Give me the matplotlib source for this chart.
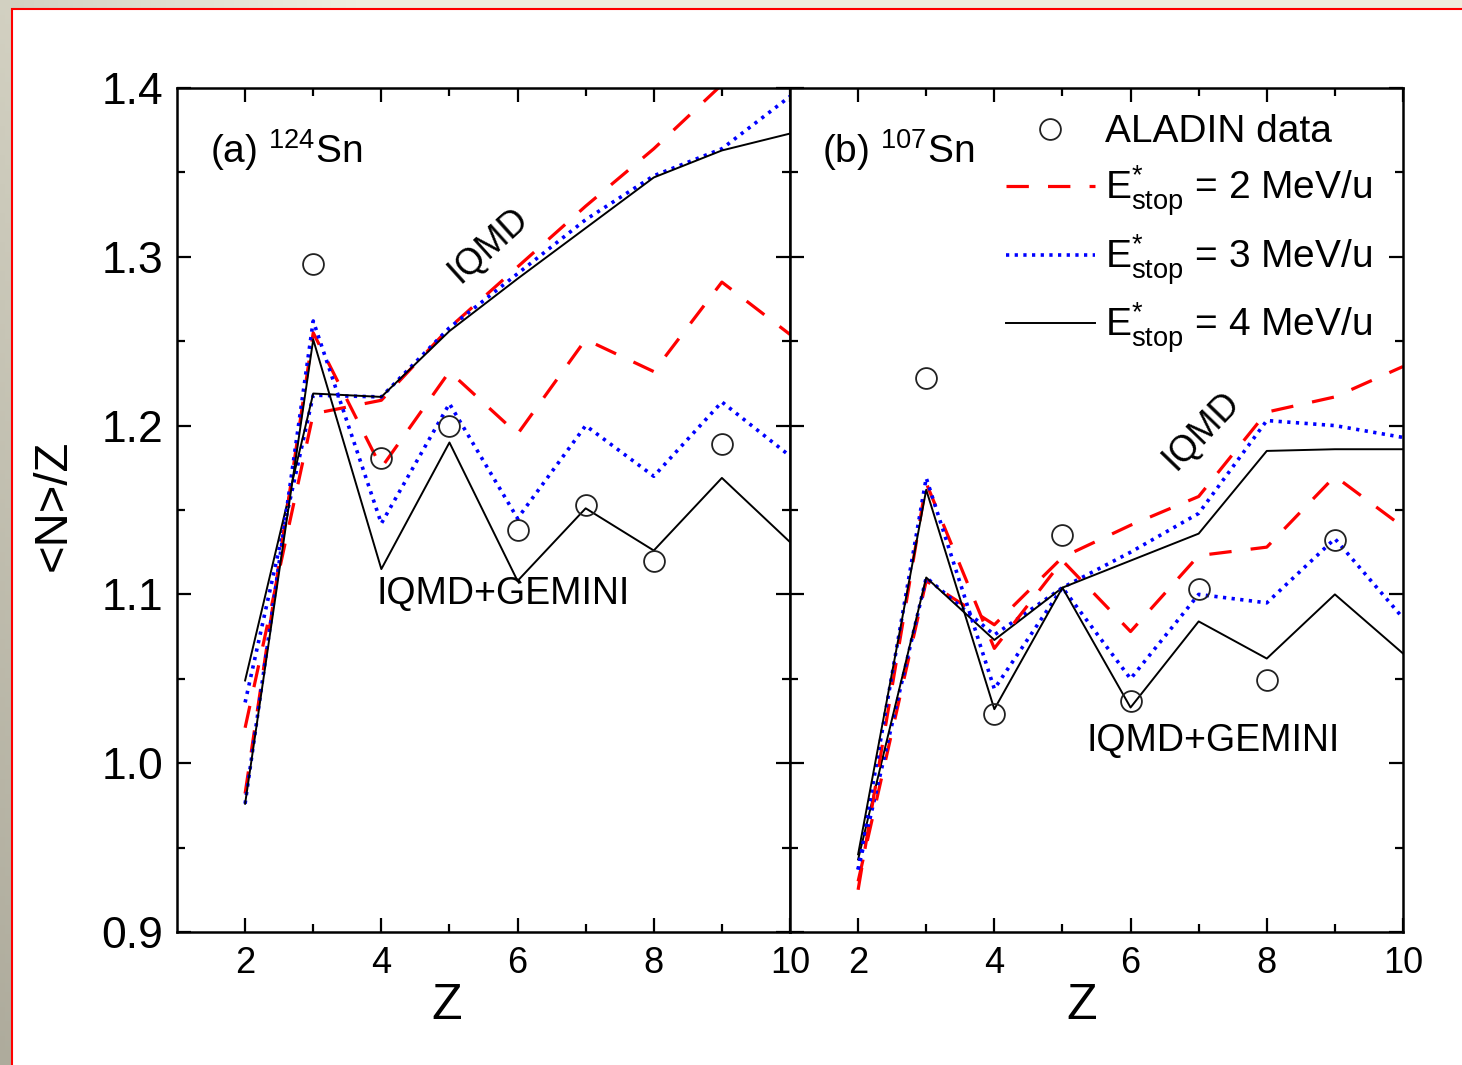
import numpy as np
import matplotlib
matplotlib.use('Agg')
import matplotlib.pyplot as plt
from matplotlib.patches import Rectangle
from matplotlib.lines import Line2D

plt.rcParams['font.family'] = ['Liberation Sans', 'DejaVu Sans']
plt.rcParams['mathtext.fontset'] = 'custom'
plt.rcParams['mathtext.rm'] = 'Liberation Sans'
plt.rcParams['mathtext.it'] = 'Liberation Sans:italic'
plt.rcParams['mathtext.bf'] = 'Liberation Sans:bold'

# charge number of the fragments
Z = [2, 3, 4, 5, 6, 7, 8, 9, 10]
Z_data = [3, 4, 5, 6, 7, 8, 9]

# (a) 124Sn
aladin_a = [1.296, 1.181, 1.200, 1.138, 1.153, 1.120, 1.189]
iqmd_a_2 = [1.021, 1.207, 1.215, 1.258, 1.294, 1.330, 1.364, 1.402, 1.430]
iqmd_a_3 = [1.036, 1.218, 1.217, 1.258, 1.290, 1.322, 1.348, 1.364, 1.395]
iqmd_a_4 = [1.049, 1.219, 1.217, 1.256, 1.287, 1.317, 1.347, 1.363, 1.373]
gem_a_2 = [0.982, 1.255, 1.175, 1.232, 1.195, 1.251, 1.232, 1.285, 1.254]
gem_a_3 = [0.976, 1.262, 1.142, 1.213, 1.145, 1.200, 1.170, 1.214, 1.182]
gem_a_4 = [0.976, 1.251, 1.115, 1.190, 1.108, 1.151, 1.126, 1.169, 1.131]

# (b) 107Sn
aladin_b = [1.228, 1.029, 1.135, 1.037, 1.103, 1.049, 1.132]
iqmd_b_2 = [0.930, 1.108, 1.082, 1.122, 1.141, 1.158, 1.208, 1.217, 1.235]
iqmd_b_3 = [0.937, 1.110, 1.076, 1.104, 1.125, 1.148, 1.203, 1.200, 1.193]
iqmd_b_4 = [0.943, 1.110, 1.073, 1.104, 1.120, 1.136, 1.185, 1.186, 1.186]
gem_b_2 = [0.925, 1.166, 1.068, 1.120, 1.078, 1.123, 1.128, 1.170, 1.140]
gem_b_3 = [0.937, 1.169, 1.044, 1.104, 1.050, 1.100, 1.095, 1.133, 1.086]
gem_b_4 = [0.946, 1.162, 1.032, 1.104, 1.033, 1.084, 1.062, 1.100, 1.065]

legend_labels = ['ALADIN data',
                 r'E$^{*}_{\mathrm{stop}}$ = 2 MeV/u',
                 r'E$^{*}_{\mathrm{stop}}$ = 3 MeV/u',
                 r'E$^{*}_{\mathrm{stop}}$ = 4 MeV/u']

sty2 = dict(color='#ff0000', lw=2.3, dashes=(7, 6))
sty3 = dict(color='#0000ff', lw=2.6, dashes=(0.9, 1.5))
sty4 = dict(color='black', lw=1.4)
circ = dict(ls='none', marker='o', ms=15, mfc='none', mec='#222222', mew=1.3)

W, H = 1462, 1065
fig = plt.figure(figsize=(W / 100, H / 100), dpi=100)

# backdrop with the slide frame
bg = fig.add_axes([0, 0, 1, 1], zorder=-10)
uu, vv = np.meshgrid(np.linspace(0, 1, 300), np.linspace(1, 0, 220))
w = np.clip(0.55 * vv + 0.45 * np.minimum(1, uu * 4), 0, 1)
dark = np.array([0.682, 0.671, 0.612])
light = np.array([0.941, 0.937, 0.878])
bg.imshow(dark + w[..., None] * (light - dark), extent=[0, 1, 0, 1],
          aspect='auto', origin='upper')
bg.axis('off')
fig.add_artist(Rectangle((11.5 / W, -0.01), 1.0, (H - 8.5) / H + 0.01,
                         transform=fig.transFigure, facecolor='white',
                         edgecolor='#ff0000', lw=1.5, zorder=-5))

ax_a = fig.add_axes([177 / W, (H - 932) / H, 613 / W, 844 / H])
ax_b = fig.add_axes([790 / W, (H - 932) / H, 613 / W, 844 / H])

for ax in (ax_a, ax_b):
    ax.set_xlim(1, 10)
    ax.set_ylim(0.9, 1.4)
    ax.set_xticks([2, 4, 6, 8, 10])
    ax.set_xticks([3, 5, 7, 9], minor=True)
    yt = np.arange(0.9, 1.41, 0.1)
    ax.set_yticks(yt)
    ax.set_yticklabels([f'{t:.1f}' for t in yt])
    ax.set_yticks(np.arange(0.95, 1.4, 0.1), minor=True)
    ax.tick_params(which='both', direction='in', top=True, right=True, width=1.6)
    ax.tick_params(which='major', length=10)
    ax.tick_params(which='minor', length=6)
    ax.tick_params(axis='x', labelsize=26, pad=10)
    ax.tick_params(axis='y', labelsize=32, pad=10)
    for s in ax.spines.values():
        s.set_linewidth(1.8)
ax_b.tick_params(labelleft=False)

# (a) 124Sn
ax_a.plot(Z, iqmd_a_2, **sty2)
ax_a.plot(Z, iqmd_a_3, **sty3)
ax_a.plot(Z, iqmd_a_4, **sty4)
ax_a.plot(Z, gem_a_2, **sty2)
ax_a.plot(Z, gem_a_3, **sty3)
ax_a.plot(Z, gem_a_4, **sty4)
ax_a.plot(Z_data, aladin_a, **circ)

# (b) 107Sn
l2, = ax_b.plot(Z, iqmd_b_2, **sty2)
l3, = ax_b.plot(Z, iqmd_b_3, **sty3)
l4, = ax_b.plot(Z, iqmd_b_4, **sty4)
ax_b.plot(Z, gem_b_2, **sty2)
ax_b.plot(Z, gem_b_3, **sty3)
ax_b.plot(Z, gem_b_4, **sty4)
pts, = ax_b.plot(Z_data, aladin_b, **circ)

ax_a.text(1.48, 1.3556, r'(a) $^{124}$Sn', fontsize=28, ha='left', va='baseline')
ax_b.text(1.47, 1.3556, r'(b) $^{107}$Sn', fontsize=28, ha='left', va='baseline')

ax_a.text(5.57, 1.307, 'IQMD', fontsize=26, rotation=42, ha='center', va='center')
ax_a.text(5.79, 1.100, 'IQMD+GEMINI', fontsize=27, ha='center', va='center')
ax_b.text(7.05, 1.197, 'IQMD', fontsize=26, rotation=46, ha='center', va='center')
ax_b.text(7.21, 1.013, 'IQMD+GEMINI', fontsize=27, ha='center', va='center')

ax_b.legend([pts, l2, l3, l4], legend_labels, loc='upper left',
            bbox_to_anchor=(0.352, 0.969), frameon=False, fontsize=28,
            handlelength=2.3, handletextpad=0.25, labelspacing=0.35,
            borderpad=0, borderaxespad=0)

ax_a.set_ylabel('<N>/Z', fontsize=34)
ax_a.yaxis.set_label_coords(-0.166, 0.506)
ax_a.set_xlabel('Z', fontsize=36)
ax_a.xaxis.set_label_coords(0.44, -0.06)
ax_b.set_xlabel('Z', fontsize=36)
ax_b.xaxis.set_label_coords(0.476, -0.06)

fig.savefig('out.png', dpi=100)
